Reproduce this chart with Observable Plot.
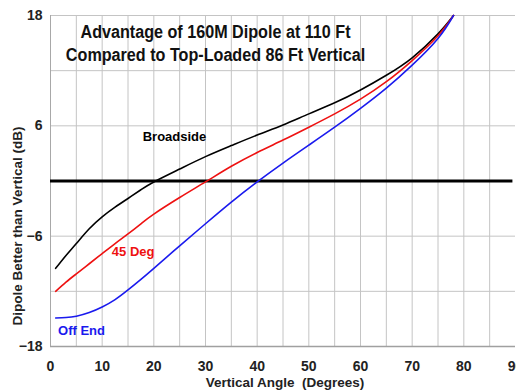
<!DOCTYPE html>
<html>
<head>
<meta charset="utf-8">
<script src="https://cdn.jsdelivr.net/npm/d3@7"></script>
<script src="https://cdn.jsdelivr.net/npm/@observablehq/plot@0.6"></script>
<style>
  html, body { margin: 0; padding: 0; background: #fff; }
  #chart { width: 516px; height: 392px; overflow: hidden; }
</style>
</head>
<body>
<div id="chart"></div>
<script>
const angles    = [1, 3, 5, 7.5, 10, 12.5, 15, 17.5, 20, 25, 30, 35, 40, 45, 50, 55, 60, 65, 70, 75, 78];
const broadside = [-9.5, -8.1, -6.8, -5.2, -3.9, -2.85, -1.9, -0.95, -0.1, 1.3, 2.65, 3.85, 5.0, 6.1, 7.3, 8.5, 9.9, 11.5, 13.4, 16.0, 18];
const deg45     = [-12, -11.0, -10.1, -9.0, -7.9, -6.8, -5.75, -4.65, -3.6, -1.8, -0.1, 1.6, 3.1, 4.45, 5.85, 7.3, 8.9, 10.8, 13.1, 15.8, 18];
const offEnd    = [-14.9, -14.85, -14.7, -14.3, -13.7, -12.9, -11.85, -10.7, -9.5, -7.05, -4.65, -2.3, -0.1, 1.95, 3.9, 5.85, 7.9, 10.1, 12.6, 15.5, 18];

const seriesNames  = ["Broadside", "45 Deg", "Off End"];
const seriesColors = ["#000000", "#ee1111", "#1a1aee"];
const seriesValues = [broadside, deg45, offEnd];

const xTickLabels = [0, 10, 20, 30, 40, 50, 60, 70, 80, 90];
const yTickLabels = [-18, -6, 6, 18];
const xGrid = [5, 10, 15, 20, 25, 30, 35, 40, 45, 50, 55, 60, 65, 70, 75, 80, 85];
const yGrid = [-12, -6, 6, 12, 18];

const titleLines = ["Advantage of 160M Dipole at 110 Ft", "Compared to Top-Loaded 86 Ft Vertical"];
const xTitle = "Vertical Angle  (Degrees)";
const yTitle = "Dipole Better than Vertical (dB)";

// annotation anchor positions (data units)
const labelX = [24, 16, 6];
const labelY = [4.8, -7.7, -16.3];

const rows = [];
seriesNames.forEach((s, i) => angles.forEach((a, j) => rows.push({series: s, angle: a, db: seriesValues[i][j]})));
const labels = seriesNames.map((s, i) => ({series: s, x: labelX[i], y: labelY[i]}));

const font = "Arial, 'Liberation Sans', sans-serif";

const chart = Plot.plot({
  width: 516,
  height: 392,
  marginLeft: 50,
  marginRight: 1,
  marginTop: 15,
  marginBottom: 46,
  style: {fontFamily: font, background: "#fff", overflow: "visible"},
  x: {domain: [0, 90]},
  y: {domain: [-18, 18]},
  color: {domain: seriesNames, range: seriesColors},
  marks: [
    Plot.ruleX(xGrid, {stroke: "#c4c4c4", strokeWidth: 1}),
    Plot.ruleY(yGrid, {stroke: "#c4c4c4", strokeWidth: 1}),
    Plot.ruleX([0], {stroke: "#a8a8a8", strokeWidth: 1}),
    Plot.ruleY([-18], {stroke: "#a0a0a0", strokeWidth: 1.5}),
    Plot.ruleY([0], {x1: 0, x2: 89.5, stroke: "#000", strokeWidth: 3}),
    Plot.line(rows, {x: "angle", y: "db", z: "series", stroke: "series", strokeWidth: 1.6, curve: "natural"}),
    Plot.text(labels, {x: "x", y: "y", text: "series", fill: "series", fontWeight: "bold", fontSize: 13, textAnchor: "middle"}),
    Plot.axisX(xTickLabels, {tickSize: 0, tickPadding: 15, fontSize: 14, fontWeight: "bold", label: null, fill: "#222"}),
    Plot.axisY(yTickLabels, {tickSize: 0, tickPadding: 8, fontSize: 14, fontWeight: "bold", label: null, fill: "#222"}),
    Plot.text([titleLines.join("\n")], {ariaDescription: "chart-title", frameAnchor: "top-left", dx: 165, dy: 7, lineAnchor: "top", lineHeight: 1.18, textAnchor: "middle", fontSize: 19, fontWeight: "bold", fill: "#111"}),
    Plot.text([xTitle], {frameAnchor: "bottom", dx: 2, dy: 40, fontSize: 13.5, fontWeight: "bold", fill: "#222"}),
    Plot.text([yTitle], {frameAnchor: "left", textAnchor: "middle", dx: -33, dy: 45, rotate: -90, fontSize: 13.5, fontWeight: "bold", fill: "#222"})
  ]
});

// condense the title horizontally (the reference uses a narrow bold face)
d3.select(chart).selectAll('g[aria-description="chart-title"] text').each(function() {
  const t = d3.select(this);
  const tr = t.attr("transform");
  if (tr) {
    t.attr("transform", tr + " scale(0.85,1)");
  } else {
    const x = +t.attr("x") || 0, y = +t.attr("y") || 0;
    t.attr("x", null).attr("y", null).attr("transform", `translate(${x},${y}) scale(0.85,1)`);
  }
});

document.getElementById("chart").appendChild(chart);
</script>
</body>
</html>
